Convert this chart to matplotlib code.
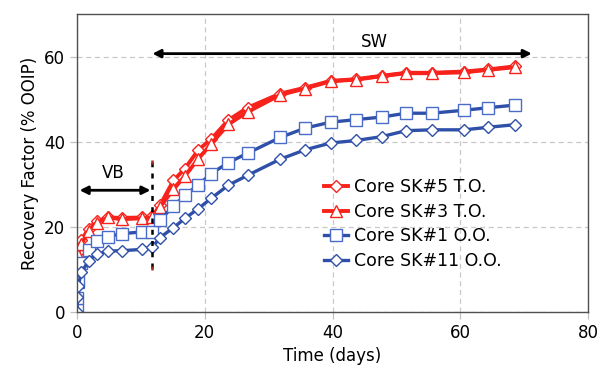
import matplotlib.pyplot as plt

# tempo (dias) comum às quatro séries
tempo = [0, 0.05, 0.15, 0.7, 1.8, 3.1, 4.9, 7.0, 10.1, 11.8, 13.0, 15.1, 16.9,
         19.0, 21.0, 23.7, 26.7, 31.8, 35.7, 39.7, 43.7, 47.7, 51.5, 55.5,
         60.6, 64.4, 68.5]

sk5_to = [9.8, 12.0, 14.2, 16.8, 19.6, 21.4, 22.2, 22.1, 22.2, 22.5, 25.1, 30.9,
          33.7, 38.1, 40.6, 45.1, 48.0, 51.3, 52.7, 54.3, 54.7, 55.5, 56.2,
          56.2, 56.5, 57.0, 57.7]
sk3_to = [9.5, 11.5, 13.5, 16.0, 19.0, 21.0, 22.2, 21.8, 22.0, 22.2, 24.7, 28.8,
          32.0, 36.0, 39.5, 44.1, 47.0, 51.0, 52.5, 54.2, 54.6, 55.4, 56.1,
          56.1, 56.3, 56.9, 57.5]
sk1_oo = [0.5, 3.2, 7.1, 11.4, 14.6, 16.7, 17.7, 18.4, 18.8, 18.9, 21.6, 24.9,
          27.4, 29.9, 32.5, 35.1, 37.3, 41.0, 43.2, 44.6, 45.2, 45.8, 46.7,
          46.7, 47.4, 48.0, 48.6]
sk11_oo = [0, 3.6, 6.0, 9.3, 12.0, 13.6, 14.3, 14.4, 14.7, 15.2, 17.5, 19.8,
           22.0, 24.3, 26.7, 29.8, 32.1, 35.9, 38.1, 39.7, 40.3, 41.2, 42.6,
           42.8, 42.8, 43.4, 44.0]

vermelho = '#f8221c'
azul = '#2f50a8'

fig = plt.figure(figsize=(5.97, 3.8), dpi=100)
ax = fig.add_axes([0.129, 0.179, 0.856, 0.784])

ax.plot(tempo, sk5_to, color=vermelho, lw=2.8, marker='D', ms=6,
        mfc='white', mec=vermelho, mew=1.0, label='Core SK#5 T.O.')
ax.plot(tempo, sk3_to, color=vermelho, lw=2.8, marker='^', ms=9,
        mfc='white', mec=vermelho, mew=1.0, label='Core SK#3 T.O.')
ax.plot(tempo, sk1_oo, color=azul, lw=2.4, marker='s', ms=8.5,
        mfc='white', mec='#4a6cc8', mew=1.0, label='Core SK#1 O.O.')
ax.plot(tempo, sk11_oo, color=azul, lw=2.4, marker='D', ms=6,
        mfc='white', mec=azul, mew=1.0, label='Core SK#11 O.O.')

# setas VB e SW
ax.annotate('', xy=(0.4, 28.6), xytext=(11.5, 28.6),
            arrowprops=dict(arrowstyle='<|-|>', color='black', lw=2,
                            mutation_scale=12, shrinkA=0, shrinkB=0))
ax.text(5.6, 30.5, 'VB', fontsize=12, ha='center', va='bottom')
ax.annotate('', xy=(11.8, 60.7), xytext=(71.2, 60.7),
            arrowprops=dict(arrowstyle='<|-|>', color='black', lw=2,
                            mutation_scale=12, shrinkA=0, shrinkB=0))
ax.text(46.6, 61.4, 'SW', fontsize=12, ha='center', va='bottom')
ax.plot([11.7, 11.7], [10.3, 35.2], color='black', lw=1.8, ls=(0, (2, 2.5)))
ax.plot([11.7, 11.7], [10.3, 35.2], color='#a03020', lw=0, marker='|', ms=3, mew=1.8)

ax.set_xlim(0, 80)
ax.set_ylim(0, 70)
ax.set_xticks([0, 20, 40, 60, 80])
ax.set_yticks([0, 20, 40, 60])
ax.grid(True, color='#c8c8c8', ls=(0, (4, 3)), lw=0.9)
ax.tick_params(labelsize=12, length=5, color='#c0c0c0', width=0.9)
for s in ax.spines.values():
    s.set_color('#505050')
    s.set_linewidth(1.0)
ax.set_xlabel('Time (days)', fontsize=12)
ax.set_ylabel('Recovery Factor (% OOIP)', fontsize=12)

ax.legend(loc='center left', bbox_to_anchor=(0.47, 0.295), frameon=False,
          fontsize=12.5, handlelength=1.4, handletextpad=0.3, labelspacing=0.38,
          borderaxespad=0)

fig.savefig('out.png', dpi=100)
